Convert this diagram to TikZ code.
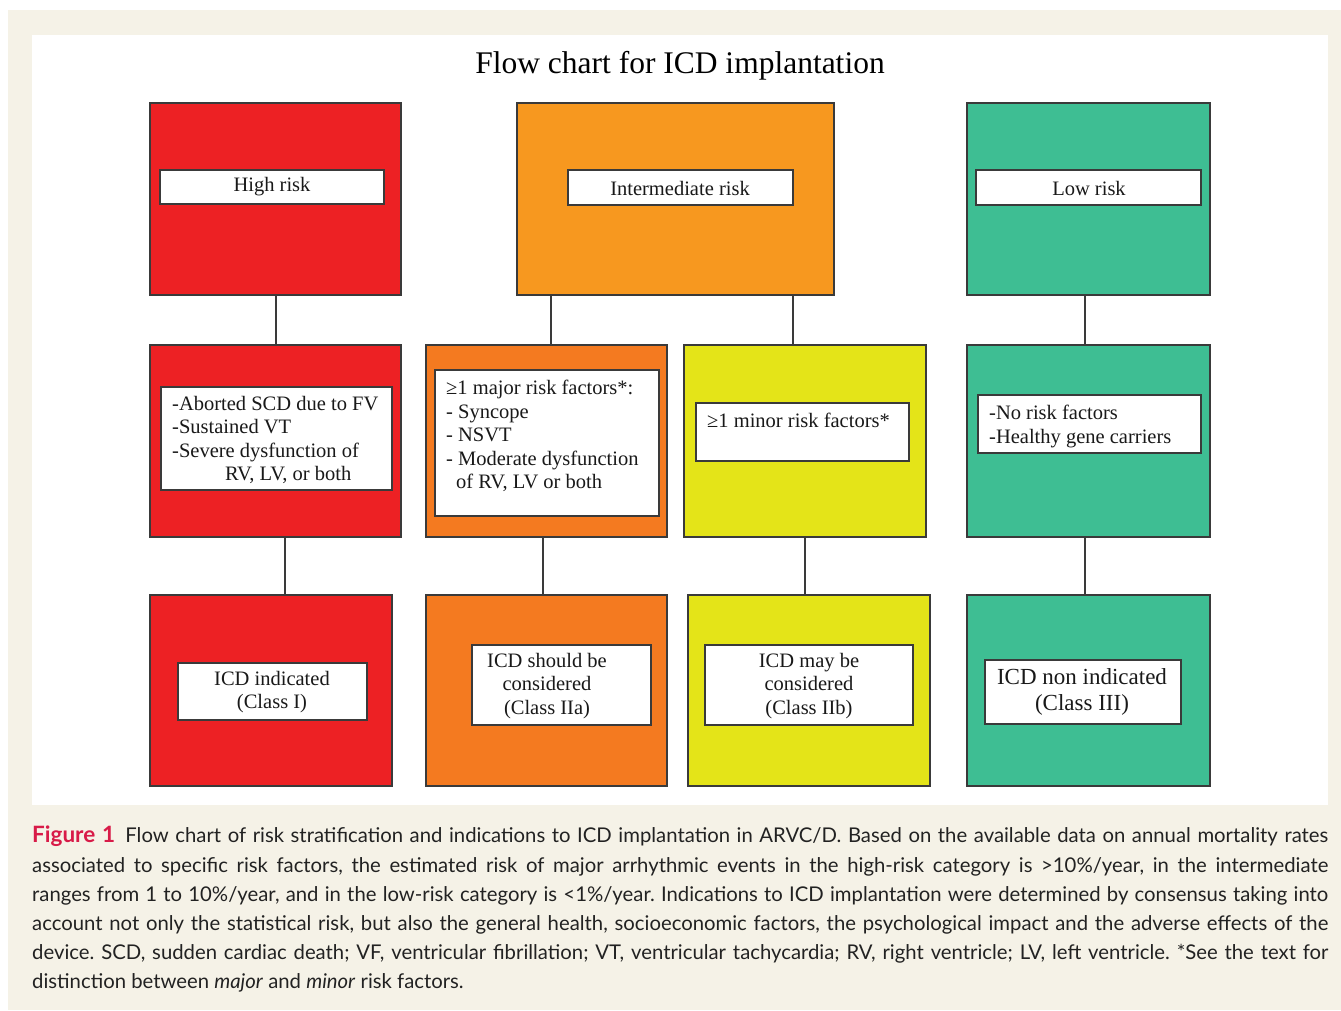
\documentclass[tikz,border=0pt]{standalone}
\usepackage{fontspec}
\setmainfont{Liberation Serif}
\newfontfamily\capfont{Lato}
\usetikzlibrary{calc}
\definecolor{bgbeige}{HTML}{F5F2E7}
\definecolor{cred}{HTML}{ED2124}
\definecolor{corangeA}{HTML}{F7981F}
\definecolor{corangeB}{HTML}{F47A20}
\definecolor{cyellow}{HTML}{E4E418}
\definecolor{cgreen}{HTML}{3EBE93}
\definecolor{edgegray}{HTML}{3A3A3A}
\definecolor{figred}{HTML}{D81B48}
\definecolor{captext}{HTML}{222222}
\begin{document}
\begin{tikzpicture}[x=1pt,y=-1pt,
  outerbox/.style={draw=edgegray,line width=1.3pt,inner sep=0pt,outer sep=0pt},
  innerbox/.style={draw=edgegray,fill=white,line width=1.1pt,inner sep=0pt,outer sep=0pt},
  boxtext/.style={inner sep=0pt,font=\fontsize{20.5}{23.5}\selectfont,text=black!90},
  link/.style={draw=edgegray,line width=1.1pt}]
\useasboundingbox (0,0) rectangle (1341,1010);
\fill[white] (0,0) rectangle (1341,1010);
\fill[bgbeige] (8,10) rectangle (1341,1010);
\fill[white] (32,35) rectangle (1328,805);

\node[inner sep=0pt,font=\fontsize{31.5}{36}\selectfont] (title) at (680,66) {Flow chart for ICD implantation};

% Row 1
\node[outerbox,fill=cred,minimum width=251pt,minimum height=192pt] (hr) at (275.5,199) {};
\node[outerbox,fill=corangeA,minimum width=317pt,minimum height=192pt] (ir) at (675.5,199) {};
\node[outerbox,fill=cgreen,minimum width=243pt,minimum height=192pt] (lr) at (1088.5,199) {};
% Row 2
\node[outerbox,fill=cred,minimum width=251pt,minimum height=192pt] (hf) at (275.5,441) {};
\node[outerbox,fill=corangeB,minimum width=241pt,minimum height=192pt] (mf) at (546.5,441) {};
\node[outerbox,fill=cyellow,minimum width=242pt,minimum height=192pt] (nf) at (805,441) {};
\node[outerbox,fill=cgreen,minimum width=243pt,minimum height=192pt] (lf) at (1088.5,441) {};
% Row 3
\node[outerbox,fill=cred,minimum width=242pt,minimum height=191pt] (hi) at (271,690.5) {};
\node[outerbox,fill=corangeB,minimum width=241pt,minimum height=191pt] (si) at (546.5,690.5) {};
\node[outerbox,fill=cyellow,minimum width=242pt,minimum height=191pt] (mi) at (809,690.5) {};
\node[outerbox,fill=cgreen,minimum width=243pt,minimum height=191pt] (ni) at (1088.5,690.5) {};

% inner white boxes
\node[innerbox,minimum width=224pt,minimum height=34pt] (hrL) at (272,187) {};
\node[innerbox,minimum width=225pt,minimum height=35pt] (irL) at (680.5,187.5) {};
\node[innerbox,minimum width=225pt,minimum height=35pt] (lrL) at (1088.5,187.5) {};
\node[innerbox,minimum width=231pt,minimum height=103pt] (hfL) at (276.5,438.5) {};
\node[innerbox,minimum width=224pt,minimum height=146pt] (mfL) at (547,443) {};
\node[innerbox,minimum width=213pt,minimum height=58pt] (nfL) at (802.5,432) {};
\node[innerbox,minimum width=223pt,minimum height=58pt] (lfL) at (1089.5,424) {};
\node[innerbox,minimum width=189pt,minimum height=57pt] (hiL) at (272.5,691.5) {};
\node[innerbox,minimum width=179pt,minimum height=80pt] (siL) at (561.5,685) {};
\node[innerbox,minimum width=208pt,minimum height=80pt] (miL) at (809,685) {};
\node[innerbox,minimum width=196pt,minimum height=64pt] (niL) at (1083,692) {};

% texts
\node[boxtext] (hrX) at (272,187) {High risk};
\node[boxtext] (irX) at (680,188) {Intermediate risk};
\node[boxtext] (lrX) at (1089,188) {Low risk};
\node[boxtext,anchor=north west,align=left] (hfX) at (172,396) {-Aborted SCD due to FV\\-Sustained VT\\-Severe dysfunction of\\\hspace*{53pt}RV, LV, or both};
\node[boxtext,anchor=north west,align=left] (mfX) at (446,380) {≥1 major risk factors*:\\- Syncope\\- NSVT\\- Moderate dysfunction\\\hspace*{10pt}of RV, LV or both};
\node[boxtext,anchor=north west,align=left] (nfX) at (707,413) {≥1 minor risk factors*};
\node[boxtext,anchor=north west,align=left] (lfX) at (989,405) {-No risk factors\\-Healthy gene carriers};
\node[boxtext,align=center] (hiX) at (272,692) {ICD indicated\\(Class I)};
\node[boxtext,align=center] (siX) at (547,686) {ICD should be\\considered\\(Class IIa)};
\node[boxtext,align=center] (miX) at (809,686) {ICD may be\\considered\\(Class IIb)};
\node[boxtext,align=center,font=\fontsize{23}{26}\selectfont] (niX) at (1082,692) {ICD non indicated\\(Class III)};

% connectors
\draw[link] (hr.south -| 276,0) -- (hf.north -| 276,0);
\draw[link] (hf.south -| 285,0) -- (hi.north -| 285,0);
\draw[link] (ir.south -| 551,0) -- (mf.north -| 551,0);
\draw[link] (ir.south -| 793,0) -- (nf.north -| 793,0);
\draw[link] (mf.south -| 543,0) -- (si.north -| 543,0);
\draw[link] (nf.south -| 805,0) -- (mi.north -| 805,0);
\draw[link] (lr.south -| 1085,0) -- (lf.north -| 1085,0);
\draw[link] (lf.south -| 1085,0) -- (ni.north -| 1085,0);

% caption
\node[anchor=north west,inner sep=0pt,text width=1296pt,align=justify,text=captext,
  font=\capfont\fontsize{20.3}{29.2}\selectfont] (cap) at (32,826)
{\frenchspacing\hyphenpenalty=10000\exhyphenpenalty=10000%
\textcolor{figred}{\fontsize{22.5}{29.2}\selectfont\textbf{Figure 1}}\hspace{0.5em}Flow chart of risk stratification and indications to ICD implantation in ARVC/D. Based on the available data on annual mortality rates\linebreak
associated to specific risk factors, the estimated risk of major arrhythmic events in the high-risk category is >10\%/year, in the intermediate\linebreak
ranges from 1 to 10\%/year, and in the low-risk category is <1\%/year. Indications to ICD implantation were determined by consensus taking into\linebreak
account not only the statistical risk, but also the general health, socioeconomic factors, the psychological impact and the adverse effects of the\linebreak
device. SCD, sudden cardiac death; VF, ventricular fibrillation; VT, ventricular tachycardia; RV, right ventricle; LV, left ventricle. *See the text for\linebreak
distinction between \textit{major} and \textit{minor} risk factors.};
\end{tikzpicture}
\end{document}
